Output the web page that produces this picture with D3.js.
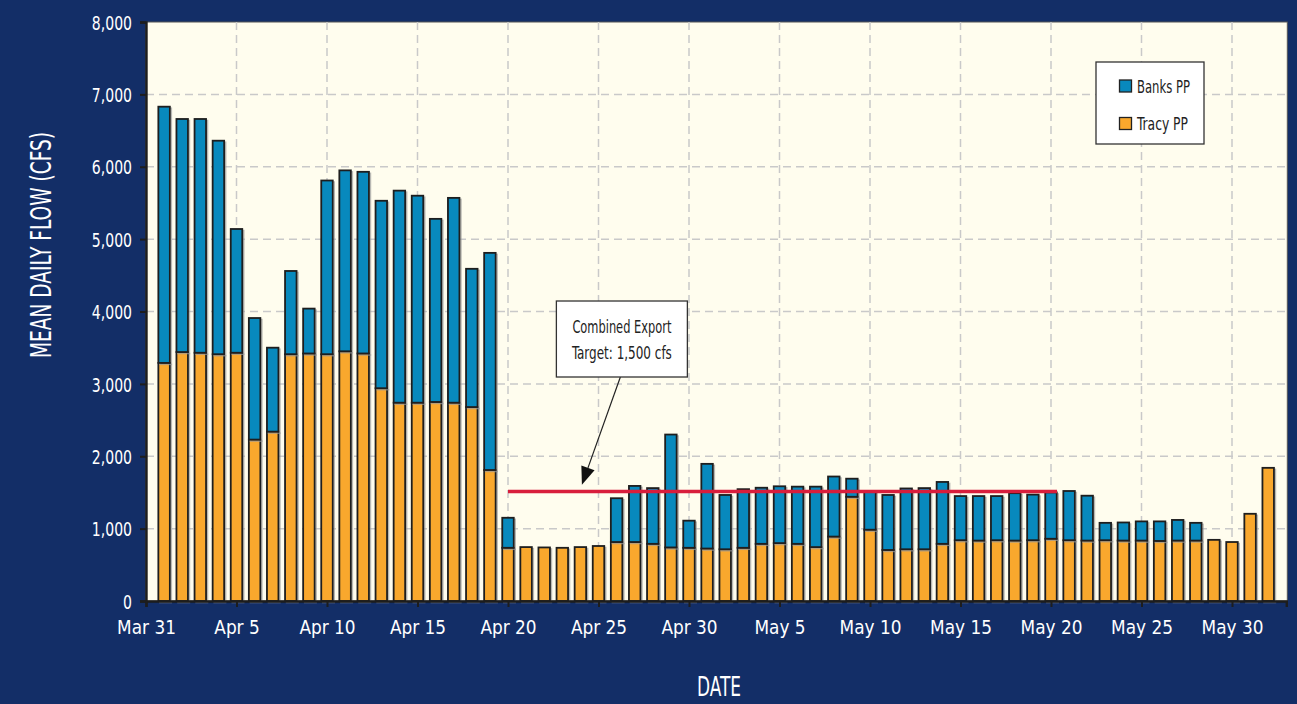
<!DOCTYPE html>
<html><head><meta charset="utf-8">
<script src="https://cdn.jsdelivr.net/npm/d3@7"></script>
<style>
html,body{margin:0;padding:0;background:#132e67;}
svg{display:block;}
text{font-family:"Liberation Sans Narrow","DejaVu Sans Condensed","Roboto Condensed",sans-serif;}
</style></head><body>
<svg id="chart" width="1297" height="704"></svg>
<script>
// ---- data ----
const startDate = "2007-04-01";
const endDate = "2007-06-01";
const tracy = [3290,3440,3430,3410,3430,2230,2340,3410,3420,3410,3450,3420,2940,2740,2740,2750,2740,2680,1810,
  735,745,740,735,745,760,815,815,790,740,735,725,715,735,790,800,790,745,890,1440,985,
  705,715,715,790,840,835,840,835,840,860,840,835,840,835,835,830,835,835,845,815,1205,1840];
const banks = [3540,3220,3230,2950,1710,1680,1160,1150,620,2400,2500,2510,2590,2930,2860,2530,2830,1910,3000,
  415,0,0,0,0,0,605,775,770,1560,375,1170,750,810,775,785,790,835,830,250,525,
  760,840,845,855,610,615,610,655,630,640,680,620,240,250,265,270,285,245,0,0,0,0];
const seriesNames = ["Banks PP","Tracy PP"];
const xTickDates = ["2007-03-31","2007-04-05","2007-04-10","2007-04-15","2007-04-20","2007-04-25","2007-04-30",
  "2007-05-05","2007-05-10","2007-05-15","2007-05-20","2007-05-25","2007-05-30"];
const xTickLabels = ["Mar 31","Apr 5","Apr 10","Apr 15","Apr 20","Apr 25","Apr 30","May 5","May 10","May 15","May 20","May 25","May 30"];
const yTicks = [0,1000,2000,3000,4000,5000,6000,7000,8000];
const yTickLabels = ["0","1,000","2,000","3,000","4,000","5,000","6,000","7,000","8,000"];
const targetValue = 1500;
const targetRange = ["2007-04-20","2007-05-20T08:00"];
const annotationLines = ["Combined Export","Target: 1,500 cfs"];
const yTitle = "MEAN DAILY FLOW (CFS)";
const xTitle = "DATE";

// ---- layout ----
const parse = s => new Date(s + (s.length === 10 ? "T00:00:00Z" : ":00Z"));
const dates = d3.utcDay.range(parse(startDate), d3.utcDay.offset(parse(endDate), 1));
const rows = dates.map((d, i) => ({date: d, "Tracy PP": tracy[i], "Banks PP": banks[i]}));

const svg = d3.select("#chart");
const colors = {"Banks PP": "#0889bd", "Tracy PP": "#f9a82d"};
const x = d3.scaleUtc().domain([parse("2007-03-31"), parse("2007-06-02")]).range([146, 1286.3]);
const y = d3.scaleLinear().domain([0, 8000]).range([601, 22]);
const [x0, x1] = x.range();

svg.append("rect").attr("width", 1297).attr("height", 704).attr("fill", "#132e67");
svg.append("rect").attr("x", x0).attr("y", y(8000)).attr("width", x1 - x0 + 1).attr("height", y(0) - y(8000))
  .attr("fill", "#fffdee").attr("stroke", "#555").attr("stroke-width", 1);

// grid
const grid = svg.append("g").attr("stroke", "#c9c9c9").attr("stroke-width", 1.5).attr("stroke-dasharray", "8,5");
grid.selectAll("line.h").data(yTicks.filter(v => v > 0 && v < 8000)).join("line")
  .attr("x1", x0).attr("x2", x1).attr("y1", d => y(d)).attr("y2", d => y(d));
grid.selectAll("line.v").data(xTickDates.slice(1)).join("line")
  .attr("x1", d => x(parse(d))).attr("x2", d => x(parse(d))).attr("y1", y(8000)).attr("y2", y(0));

// bars
const stack = d3.stack().keys(["Tracy PP", "Banks PP"]);
const series = stack(rows);
const bw = 11.5;
const barG = svg.append("g");
series.forEach(s => {
  const g = barG.append("g");
  const data = s.filter(d => d[1] - d[0] > 0);
  g.selectAll("rect.sh").data(data).join("rect")
    .attr("x", d => x(d.data.date) - bw / 2 + 1.5).attr("y", d => y(d[1]) + 1.5)
    .attr("width", bw).attr("height", d => y(d[0]) - y(d[1]))
    .attr("fill", "none").attr("stroke", "#9a9a9a").attr("stroke-width", 1.5).attr("opacity", 0.7);
  g.selectAll("rect.b").data(data).join("rect")
    .attr("x", d => x(d.data.date) - bw / 2).attr("y", d => y(d[1]))
    .attr("width", bw).attr("height", d => y(d[0]) - y(d[1]))
    .attr("fill", colors[s.key]).attr("stroke", "#1e1e1e").attr("stroke-width", 1.8);
});

// target line
svg.append("line").attr("x1", x(parse(targetRange[0]))).attr("x2", x(parse(targetRange[1])))
  .attr("y1", y(targetValue) - 1).attr("y2", y(targetValue) - 1)
  .attr("stroke", "#d81e3c").attr("stroke-width", 3.6);

// axes
const yAxis = svg.append("g").attr("transform", `translate(${x0},0)`)
  .call(d3.axisLeft(y).tickValues(yTicks).tickFormat((d, i) => yTickLabels[i]).tickSize(6).tickPadding(8));
const xAxis = svg.append("g").attr("transform", `translate(0,${y(0)})`)
  .call(d3.axisBottom(x).tickValues(xTickDates.map(parse)).tickFormat((d, i) => xTickLabels[i]).tickSize(6).tickPadding(13));
[yAxis, xAxis].forEach(a => {
  a.select(".domain").attr("stroke", "#1d1d1d").attr("stroke-width", 2.4);
  a.selectAll(".tick line").attr("stroke", "#1d1d1d").attr("stroke-width", 2);
  a.selectAll(".tick text").attr("fill", "#fff").style("font-size", "20px");
});
yAxis.selectAll(".tick text").attr("dy", "0.36em").each(function () {
  const w = this.getComputedTextLength();
  d3.select(this).attr("textLength", w * 0.78).attr("lengthAdjust", "spacingAndGlyphs");
});
xAxis.selectAll(".tick text").attr("dy", "0.71em").each(function () {
  const w = this.getComputedTextLength();
  d3.select(this).attr("textLength", w * 0.94).attr("lengthAdjust", "spacingAndGlyphs");
});

// titles
svg.append("text").attr("transform", `translate(51,${245}) rotate(-90)`).attr("text-anchor", "middle")
  .attr("fill", "#fff").style("font-size", "28px").attr("textLength", 226).attr("lengthAdjust", "spacingAndGlyphs").text(yTitle);
svg.append("text").attr("x", 719).attr("y", 696).attr("text-anchor", "middle")
  .attr("fill", "#fff").style("font-size", "26px").attr("textLength", 44).attr("lengthAdjust", "spacingAndGlyphs").text(xTitle);

// legend
const lg = svg.append("g");
lg.append("rect").attr("x", 1096).attr("y", 62).attr("width", 108).attr("height", 82)
  .attr("fill", "#fff").attr("stroke", "#333").attr("stroke-width", 1.3);
seriesNames.forEach((n, i) => {
  const yy = 80 + i * 37.5;
  lg.append("rect").attr("x", 1119.5).attr("y", yy).attr("width", 12).attr("height", 12)
    .attr("fill", colors[n]).attr("stroke", "#222").attr("stroke-width", 1.3);
  lg.append("text").attr("x", 1137).attr("y", yy + 12.5).attr("fill", "#222").style("font-size", "18px")
    .attr("textLength", n === "Banks PP" ? 53 : 51).attr("lengthAdjust", "spacingAndGlyphs").text(n);
});

// annotation
const boxCx = x(parse("2007-04-26T07:00")), boxTop = y(4145), boxBot = y(3095), boxW = 131;
const ann = svg.append("g");
const tipX = x(parse("2007-04-24T02:00")), tipY = y(1605);
const baseX = x(parse("2007-04-26T05:00"));
const ang = Math.atan2(tipY - boxBot, tipX - baseX);
const headLen = 18, headW = 7;
const hx = tipX - headLen * Math.cos(ang), hy = tipY - headLen * Math.sin(ang);
ann.append("line").attr("x1", baseX).attr("y1", boxBot).attr("x2", hx).attr("y2", hy).attr("stroke", "#222").attr("stroke-width", 1.2);
ann.append("path").attr("d", `M${tipX},${tipY}L${hx + headW * Math.sin(ang)},${hy - headW * Math.cos(ang)}L${hx - headW * Math.sin(ang)},${hy + headW * Math.cos(ang)}Z`).attr("fill", "#111");
ann.append("rect").attr("x", boxCx - boxW / 2).attr("y", boxTop).attr("width", boxW).attr("height", boxBot - boxTop)
  .attr("fill", "#fff").attr("stroke", "#333").attr("stroke-width", 1.3);
annotationLines.forEach((t, i) => {
  ann.append("text").attr("x", boxCx).attr("y", boxTop + 32 + i * 26).attr("text-anchor", "middle")
    .attr("fill", "#222").style("font-size", "18px")
    .attr("textLength", i === 0 ? 99 : 100).attr("lengthAdjust", "spacingAndGlyphs").text(t);
});
</script>
</body></html>
